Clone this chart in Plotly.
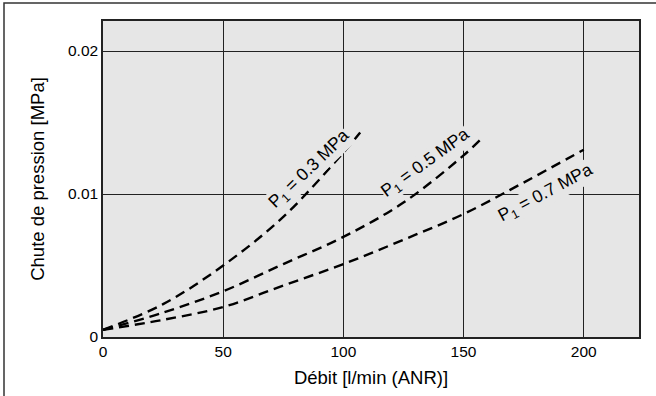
import plotly.graph_objects as go

# Data
flow_03 = [0, 25, 50, 75, 100, 107]
drop_03 = [0.0005, 0.0023, 0.0050, 0.0084, 0.0129, 0.0143]

flow_05 = [0, 25, 50, 75, 100, 125, 150, 157]
drop_05 = [0.0005, 0.0017, 0.0032, 0.0051, 0.0070, 0.0094, 0.0127, 0.0138]

flow_07 = [0, 25, 50, 75, 100, 125, 150, 175, 200]
drop_07 = [0.0005, 0.0012, 0.0021, 0.0036, 0.0051, 0.0068, 0.0086, 0.0108, 0.0131]

series_labels = ["P<sub>1</sub> = 0.3 MPa", "P<sub>1</sub> = 0.5 MPa", "P<sub>1</sub> = 0.7 MPa"]
label_x = [86.0, 134.2, 184.2]
label_y = [0.01168, 0.01210, 0.01001]
label_angle = [-44, -36, -28]

x_ticks = [0, 50, 100, 150, 200]
y_ticks = [0, 0.01, 0.02]
y_tick_text = ["0", "0.01", "0.02"]

FONT = "Liberation Sans, Arial, Helvetica, sans-serif"

fig = go.Figure()
for fx, fy in [(flow_03, drop_03), (flow_05, drop_05), (flow_07, drop_07)]:
    fig.add_trace(go.Scatter(
        x=fx, y=fy, mode="lines",
        line=dict(color="black", width=2.4, dash="10px,6px", shape="spline", smoothing=1.0),
        showlegend=False, hoverinfo="skip",
    ))

for txt, ax_, ay_, ang in zip(series_labels, label_x, label_y, label_angle):
    fig.add_annotation(
        x=ax_, y=ay_, xref="x", yref="y", text=txt, showarrow=False,
        textangle=ang, font=dict(family=FONT, size=17.5, color="black"),
        bgcolor="#e6e6e6", borderpad=0, xanchor="center", yanchor="middle",
    )

# outer frame
fig.add_shape(type="rect", xref="paper", yref="paper",
              x0=(4 - 103) / 536, x1=(680 - 103) / 536,
              y0=-(420 - 337) / 316, y1=1 + (21 - 3) / 316,
              line=dict(color="#333", width=1.5), fillcolor="rgba(0,0,0,0)", layer="below")

fig.update_layout(
    width=656, height=396,
    margin=dict(l=103, r=17, t=21, b=59, autoexpand=False),
    paper_bgcolor="white", plot_bgcolor="#e6e6e6",
    font=dict(family=FONT, size=15, color="black"),
    xaxis=dict(
        range=[0, 223], tickvals=x_ticks, showgrid=True, gridcolor="#222", gridwidth=1.2,
        showline=True, linecolor="#222", linewidth=1.5, mirror=True, zeroline=False,
        ticks="", tickfont=dict(size=15.5), automargin=False,
        title=dict(text="Débit [l/min (ANR)]", font=dict(size=18.5), standoff=12),
        fixedrange=True,
    ),
    yaxis=dict(
        range=[0, 0.0221], tickvals=y_ticks, ticktext=y_tick_text, showgrid=True,
        gridcolor="#222", gridwidth=1.2,
        showline=True, linecolor="#222", linewidth=1.5, mirror=True, zeroline=False,
        ticks="", tickfont=dict(size=15.5), automargin=False,
        title=dict(text="Chute de pression [MPa]", font=dict(size=18.5), standoff=19),
        fixedrange=True,
    ),
)

fig.write_html("out.html", config={"displayModeBar": False},
               post_script="document.body.style.margin='0';document.body.style.overflow='hidden';")
